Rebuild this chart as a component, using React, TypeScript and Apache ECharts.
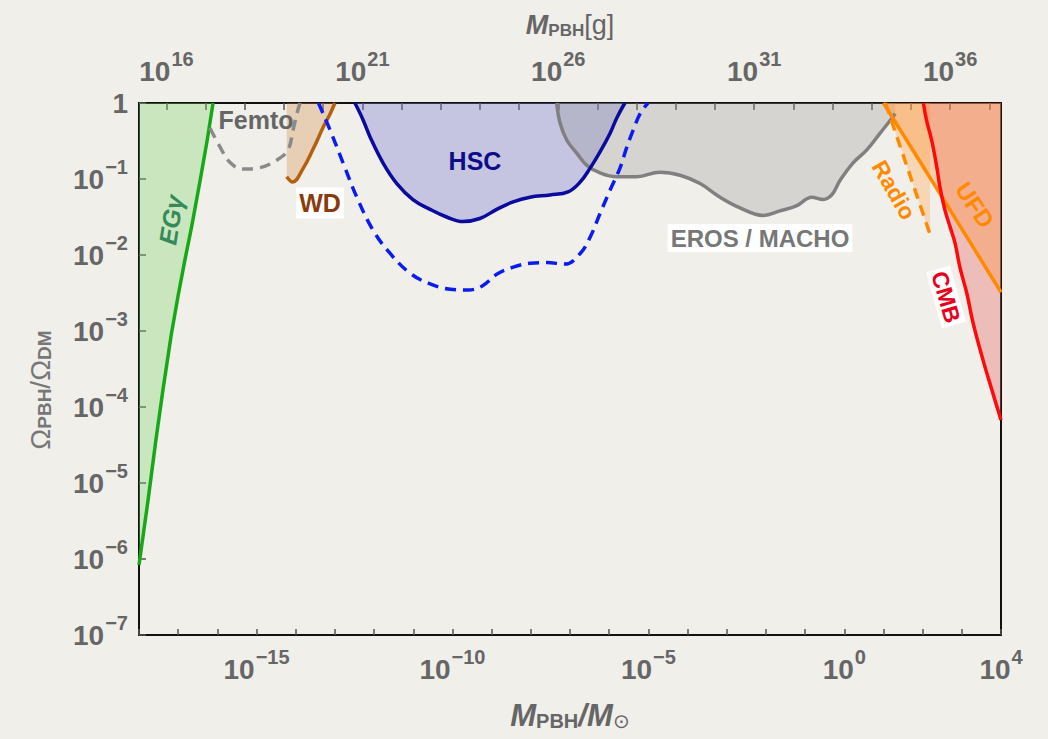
import React, { useEffect, useRef } from "react";
import * as echarts from "echarts";

// All values are log10 of the quantity: x = log10(M_PBH / M_sun), y = log10(Omega_PBH / Omega_DM)
const LOG_MSUN_GRAMS = 33.29863;
const X_MIN = -18;
const X_MAX = 4;
const Y_MIN = -7;
const Y_MAX = 0;

const bottomLabelExps = [-15, -10, -5, 0, 4];
const topTickExps = [16, 17, 18, 19, 20, 21, 22, 23, 24, 25, 26, 27, 28, 29, 30, 31, 32, 33, 34, 35, 36, 37];
const topLabelExps = [16, 21, 26, 31, 36];

const egGamma = [[-18, -6.08], [-17.77, -5.23], [-17.57, -4.44], [-17.39, -3.78], [-17.18, -3.06], [-17.0, -2.53], [-16.83, -2.07], [-16.65, -1.61], [-16.44, -1.02], [-16.26, -0.49], [-16.11, 0]];
const femto = [[-16.19, -0.33], [-15.93, -0.58], [-15.68, -0.78], [-15.35, -0.87], [-14.91, -0.85], [-14.48, -0.75], [-14.2, -0.62], [-14.07, -0.36], [-13.97, -0.14], [-13.89, 0]];
const whiteDwarf = [[-14.23, -0.97], [-14.08, -1.04], [-13.81, -0.86], [-13.55, -0.6], [-13.3, -0.32], [-13.12, -0.14], [-13.0, 0]];
const hsc = [[-12.49, 0], [-12.3, -0.2], [-12.1, -0.45], [-11.77, -0.79], [-11.42, -1.06], [-11.01, -1.27], [-10.57, -1.4], [-10.15, -1.5], [-9.73, -1.56], [-9.3, -1.52], [-8.87, -1.4], [-8.45, -1.3], [-8.02, -1.24], [-7.51, -1.21], [-7.05, -1.17], [-6.74, -1.04], [-6.49, -0.86], [-6.23, -0.64], [-5.98, -0.4], [-5.8, -0.19], [-5.6, 0]];
const hscFuture = [[-13.42, 0], [-13.12, -0.36], [-12.79, -0.79], [-12.44, -1.24], [-12.03, -1.67], [-11.59, -1.98], [-11.08, -2.24], [-10.57, -2.38], [-10.06, -2.45], [-9.6, -2.46], [-9.25, -2.41], [-8.86, -2.25], [-8.45, -2.16], [-8.02, -2.11], [-7.59, -2.1], [-7.13, -2.12], [-6.74, -1.98], [-6.49, -1.77], [-6.23, -1.45], [-5.98, -1.15], [-5.72, -0.85], [-5.55, -0.58], [-5.39, -0.36], [-5.21, -0.14], [-5.01, 0]];
const erosMacho = [[-7.34, 0], [-7.25, -0.27], [-7.08, -0.49], [-6.83, -0.66], [-6.57, -0.82], [-6.23, -0.92], [-5.81, -0.97], [-5.3, -0.97], [-4.7, -0.91], [-4.19, -0.95], [-3.68, -1.06], [-3.17, -1.24], [-2.66, -1.38], [-2.07, -1.48], [-1.64, -1.42], [-1.21, -1.35], [-0.83, -1.24], [-0.54, -1.27], [-0.32, -1.21], [-0.11, -1.02], [0.22, -0.79], [0.57, -0.62], [0.91, -0.4], [1.17, -0.23], [1.3, -0.14]];
const radio = [[1.05, 0], [2.19, -1.73]];
const ufd = [[1.0, 0], [2.5, -1.24], [4.0, -2.49]];
const cmb = [[2.02, 0], [2.1, -0.23], [2.23, -0.49], [2.36, -0.84], [2.44, -1.1], [2.57, -1.41], [2.7, -1.63], [2.83, -1.85], [2.95, -2.16], [3.13, -2.51], [3.29, -2.9], [3.54, -3.38], [3.77, -3.78], [4.0, -4.17]];

const FONT = '"Liberation Sans", Arial, Helvetica, sans-serif';
const GRAY = "#666";

function supText(v: number): string {
  return v < 0 ? "\u2212" + Math.abs(v) : String(v);
}

const tickRich = {
  b: { fontSize: 28, fontWeight: "bold", color: GRAY, fontFamily: FONT, padding: [8, 0, 8, 0], verticalAlign: "bottom" },
  s: { fontSize: 20, fontWeight: "bold", color: GRAY, fontFamily: FONT, padding: [0, 0, 0, 1], verticalAlign: "top" },
  one: { fontSize: 28, fontWeight: "bold", color: GRAY, fontFamily: FONT },
};

function fillSeries(data: number[][], color: string, smooth = 0.4) {
  return {
    type: "line",
    data,
    showSymbol: false,
    symbol: "none",
    smooth,
    silent: true,
    lineStyle: { width: 0, opacity: 0 },
    areaStyle: { color, origin: "end", opacity: 1 },
    z: 1,
  };
}

function lineSeries(data: number[][], color: string, dashed = false, smooth = 0.4) {
  return {
    type: "line",
    data,
    showSymbol: false,
    symbol: "none",
    smooth,
    silent: true,
    lineStyle: { color, width: 3.5, type: dashed ? [11, 7] : "solid", cap: "butt", join: "round" },
    z: 3,
  };
}

function label(text: string, x: number, y: number, fontSize: number, color: string, rotDeg = 0, extra: any = {}) {
  return {
    type: "text",
    x,
    y,
    rotation: (rotDeg * Math.PI) / 180,
    z: 10,
    style: {
      text,
      fontSize,
      fontWeight: "bold",
      fontFamily: FONT,
      fill: color,
      align: "center",
      verticalAlign: "middle",
      ...extra,
    },
  };
}

export default function App() {
  const ref = useRef<HTMLDivElement>(null);

  useEffect(() => {
    document.body.style.margin = "0";
    document.body.style.background = "#f1efea";
    const chart = echarts.init(ref.current!, undefined, { renderer: "svg" });
    chart.setOption({
      animation: false,
      backgroundColor: "transparent",
      grid: { left: 139, right: 47, top: 103, bottom: 104, show: true, borderColor: "#111", borderWidth: 2, backgroundColor: "transparent" },
      xAxis: [
        {
          type: "value",
          position: "bottom",
          min: X_MIN,
          max: X_MAX,
          interval: 1,
          axisLine: { show: true, onZero: false, lineStyle: { color: "#111", width: 2 } },
          axisTick: { show: true, inside: true, length: 6, lineStyle: { color: "#555", width: 1.5 } },
          splitLine: { show: false },
          axisLabel: {
            customValues: bottomLabelExps,
            margin: 12,
            formatter: (v: number) => `{b|10}{s|${supText(v)}}`,
            rich: tickRich,
          },
        },
        {
          type: "value",
          position: "top",
          min: X_MIN + LOG_MSUN_GRAMS,
          max: X_MAX + LOG_MSUN_GRAMS,
          axisLine: { show: true, onZero: false, lineStyle: { color: "#111", width: 2 } },
          axisTick: { show: true, inside: true, length: 7, customValues: topTickExps, lineStyle: { color: "#555", width: 1.5 } },
          splitLine: { show: false },
          axisLabel: {
            customValues: topLabelExps,
            margin: 10,
            formatter: (v: number) => `{b|10}{s|${supText(v)}}`,
            rich: tickRich,
          },
        },
      ],
      yAxis: {
        type: "value",
        min: Y_MIN,
        max: Y_MAX,
        interval: 1,
        axisLine: { show: true, onZero: false, lineStyle: { color: "#111", width: 2 } },
        axisTick: { show: true, inside: true, length: 7, lineStyle: { color: "#555", width: 1.5 } },
        splitLine: { show: false },
        axisLabel: {
          margin: 11,
          formatter: (v: number) => (v === 0 ? "{one|1}" : `{b|10}{s|${supText(v)}}`),
          rich: tickRich,
        },
      },
      series: [
        fillSeries(egGamma, "rgba(120,210,100,0.32)", 0),
        fillSeries(whiteDwarf, "rgba(210,140,70,0.32)"),
        fillSeries(hsc, "rgba(120,120,210,0.36)"),
        fillSeries(erosMacho, "rgba(150,150,150,0.3)"),
        fillSeries(radio, "rgba(255,170,80,0.35)", 0),
        fillSeries(cmb, "rgba(230,100,100,0.36)"),
        fillSeries(ufd, "rgba(255,150,60,0.35)", 0),
        lineSeries(egGamma, "#17a817", false, 0),
        lineSeries(femto, "#8a8a8a", true),
        lineSeries(whiteDwarf, "#b5600f"),
        lineSeries(hscFuture, "#0b1cf0", true),
        lineSeries(erosMacho, "#808080"),
        lineSeries(hsc, "#0a0a9c"),
        lineSeries(radio, "#ff8a00", true, 0),
        lineSeries(ufd, "#ff8a00", false, 0),
        lineSeries(cmb, "#ff0a0a"),
      ],
      graphic: [
        label("EG\u03B3", 171, 220, 25, "#348a58", 81, { fontStyle: "italic" }),
        label("Femto", 256, 120, 25, GRAY),
        label("WD", 320, 203, 25, "#8b3a0e", 0, { backgroundColor: "#fff", padding: [3, 3] }),
        label("HSC", 475, 161, 25, "#0d0d8a"),
        label("EROS / MACHO", 760, 238, 24, "#777", 0, { backgroundColor: "#fff", padding: [2, 3] }),
        label("Radio", 894, 190, 23, "#ff8a00", -60),
        label("UFD", 975, 205, 24, "#ff8a00", -56),
        label("CMB", 946, 297, 23, "#e8001c", -74, { backgroundColor: "#fff", padding: [1, 3] }),
        {
          type: "text",
          x: 570,
          y: 715,
          style: {
            text: "{m|M}{p|PBH}{m|/M}{o|\u2299}",
            align: "center",
            verticalAlign: "middle",
            rich: {
              m: { fontSize: 31, fontWeight: "bold", fontStyle: "italic", fill: GRAY, fontFamily: FONT, verticalAlign: "bottom" },
              p: { fontSize: 20, fontWeight: "bold", fill: GRAY, fontFamily: FONT, verticalAlign: "bottom" },
              o: { fontSize: 20, fill: GRAY, fontFamily: FONT, verticalAlign: "bottom", padding: [10, 0, 0, 0] },
            },
          },
        },
        {
          type: "text",
          x: 570,
          y: 25,
          style: {
            text: "{m|M}{p|PBH}{g|[g]}",
            align: "center",
            verticalAlign: "middle",
            rich: {
              m: { fontSize: 27, fontWeight: "bold", fontStyle: "italic", fill: GRAY, fontFamily: FONT, verticalAlign: "bottom" },
              p: { fontSize: 17, fontWeight: "bold", fill: GRAY, fontFamily: FONT, verticalAlign: "bottom" },
              g: { fontSize: 27, fill: GRAY, fontFamily: FONT, verticalAlign: "bottom" },
            },
          },
        },
        {
          type: "text",
          x: 40,
          y: 390,
          rotation: Math.PI / 2,
          style: {
            text: "{o|\u03A9}{p|PBH}{o|/\u03A9}{p|DM}",
            align: "center",
            verticalAlign: "middle",
            rich: {
              o: { fontSize: 28, fill: "#777", fontFamily: FONT, verticalAlign: "bottom" },
              p: { fontSize: 19, fontWeight: "bold", fill: "#777", fontFamily: FONT, verticalAlign: "bottom", padding: [6, 0, 0, 0] },
            },
          },
        },
      ],
    });
    return () => chart.dispose();
  }, []);

  return (
    <div style={{ position: "fixed", left: 0, top: 0, width: 1048, height: 739, background: "#f1efea" }}>
      <div ref={ref} style={{ width: 1048, height: 739 }} />
    </div>
  );
}
